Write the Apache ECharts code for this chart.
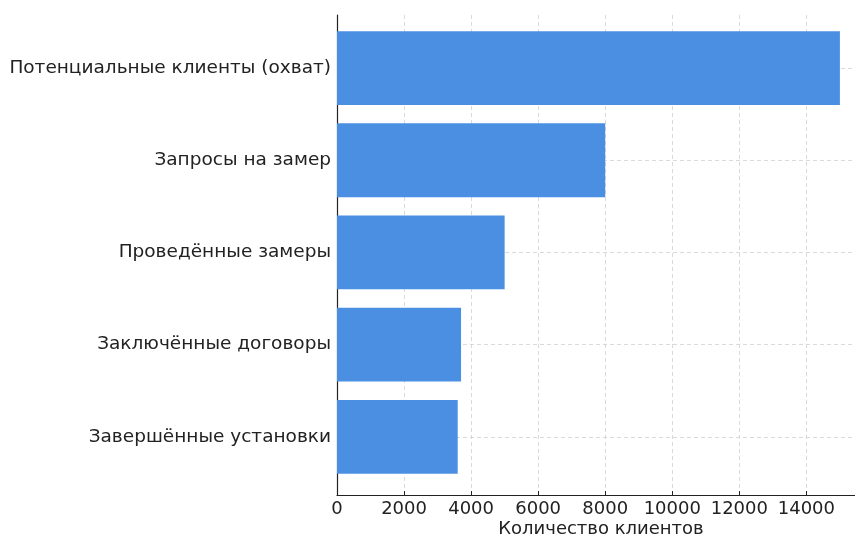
<!DOCTYPE html>
<html>
<head>
    <meta charset="UTF-8">
    <title>Воронка клиентов</title>
    <script src="https://cdn.jsdelivr.net/npm/echarts/dist/echarts.min.js"></script>
    <style>
        body { margin: 0; background: #fff; }
        #main { width: 855px; height: 535px; }
    </style>
</head>
<body>
    <div id="main"></div>
    <script>
        var categories = [
            'Потенциальные клиенты (охват)',
            'Запросы на замер',
            'Проведённые замеры',
            'Заключённые договоры',
            'Завершённые установки'
        ];
        var clients = [15000, 8000, 5000, 3700, 3600];
        var xTicks = [0, 2000, 4000, 6000, 8000, 10000, 12000, 14000];

        var myChart = echarts.init(document.getElementById('main'));
        var font = 'DejaVu Sans';
        var rowIndex = categories.map(function (c, i) { return i; });
        var barData = clients.map(function (v, i) { return [v, i]; });
        var gridStyle = { color: '#d0d0d0', type: [4, 3], width: 0.8 };

        // horizontal bars on a numeric y scale (0.8 of a row high)
        function renderBar(params, api) {
            var v = api.value(0), i = api.value(1);
            var p0 = api.coord([0, i - 0.4]);
            var p1 = api.coord([v, i + 0.4]);
            return {
                type: 'rect',
                shape: { x: p0[0], y: Math.min(p0[1], p1[1]), width: p1[0] - p0[0], height: Math.abs(p1[1] - p0[1]) },
                style: { fill: '#4a8fe2' }
            };
        }

        var option = {
            animation: false,
            grid: { left: 337, right: 0, top: 15, bottom: 40, outerBoundsMode: 'none', containLabel: false },
            xAxis: {
                type: 'value',
                min: 0,
                max: 15450,
                interval: 2000,
                name: 'Количество клиентов',
                nameLocation: 'middle',
                nameGap: 25,
                nameMoveOverlap: false,
                nameTextStyle: { fontFamily: font, fontSize: 18, color: '#222', padding: [0, 0, 0, 10] },
                axisLine: { show: true, onZero: false, lineStyle: { color: '#222', width: 1.2 } },
                axisTick: { show: true, inside: true, length: 4, lineStyle: { color: '#222' } },
                axisLabel: { fontFamily: font, fontSize: 18, color: '#222', margin: 5, showMaxLabel: false,
                    formatter: function (v) { return xTicks.indexOf(v) >= 0 ? String(v) : ''; } },
                splitLine: { show: true, lineStyle: gridStyle }
            },
            yAxis: {
                type: 'value',
                inverse: true,
                min: -0.575,
                max: 4.63,
                axisLine: { show: true, onZero: false, lineStyle: { color: '#222', width: 1.2 } },
                axisTick: { show: true, inside: true, length: 5, customValues: rowIndex, lineStyle: { color: '#222' } },
                axisLabel: { fontFamily: font, fontSize: 18.5, color: '#222', margin: 6, customValues: rowIndex,
                    formatter: function (v) { return categories[Math.round(v)] || ''; } },
                splitLine: { show: true, lineStyle: gridStyle }
            },
            series: [{
                type: 'custom',
                renderItem: renderBar,
                encode: { x: 0, y: 1 },
                data: barData,
                z: 1
            }]
        };

        myChart.setOption(option);
    </script>
</body>
</html>
